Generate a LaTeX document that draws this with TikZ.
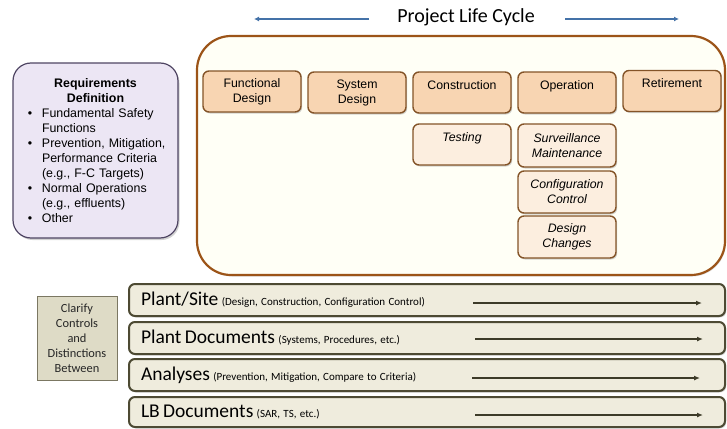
\documentclass[tikz,border=0pt]{standalone}
\usepackage{fontspec}
\setmainfont{Liberation Sans}
\newfontfamily\calibri{Carlito}
\usetikzlibrary{arrows.meta,shadows}
\definecolor{lcborder}{HTML}{9C5418}
\definecolor{lcfill}{HTML}{FFFFF6}
\definecolor{phfill}{HTML}{F8D5B2}
\definecolor{phborder}{HTML}{845428}
\definecolor{subfill}{HTML}{FCEEDF}
\definecolor{reqfill}{HTML}{ECE6F4}
\definecolor{reqborder}{HTML}{4F4563}
\definecolor{barfill}{HTML}{EFECDD}
\definecolor{barborder}{HTML}{4D4A33}
\definecolor{bararrow}{HTML}{3D3B28}
\definecolor{clfill}{HTML}{DEDBC6}
\definecolor{clborder}{HTML}{7B7762}
\definecolor{titlearrow}{HTML}{4472A8}
\newcommand\reqitem[1]{\par\noindent\makebox[15pt][l]{\hspace{1pt}\textbullet}\mbox{#1}}
\newcommand\reqcont[1]{\par\noindent\hspace{15pt}\mbox{#1}}
\tikzset{
  phase/.style={draw=phborder, line width=1.4pt, fill=phfill, rounded corners=6pt,
    minimum width=98pt, minimum height=41pt, inner sep=0pt, align=center,
    font=\fontsize{12.3}{15}\selectfont,
    drop shadow={shadow xshift=1.2pt, shadow yshift=-1.5pt, opacity=0.35}},
  subphase/.style={phase, fill=subfill, font=\fontsize{12.3}{15}\selectfont\itshape},
  bar/.style={draw=barborder, line width=2pt, fill=barfill, rounded corners=6pt,
    minimum width=596pt, inner sep=0pt, text width=572pt, align=left,
    drop shadow={shadow xshift=1.2pt, shadow yshift=-1.5pt, opacity=0.3}},
  bararr/.style={draw=bararrow, line width=2pt, -{Latex[length=6pt,width=5pt]}},
  titlearr/.style={draw=titlearrow, line width=2pt, -{Latex[length=5pt,width=5pt]}}
}
\begin{document}
\begin{tikzpicture}[x=1pt,y=-1pt]
\useasboundingbox (0,0) rectangle (727,428);
% title
\node[font=\calibri\fontsize{20}{24}\selectfont, inner sep=0pt] (title) at (466,17) {Project Life Cycle};
\coordinate (la1) at (369,19); \coordinate (la2) at (254,19);
\coordinate (ra1) at (565,19); \coordinate (ra2) at (679,19);
\draw[titlearr] (la1) -- (la2);
\draw[titlearr] (ra1) -- (ra2);
% life cycle box
\node[draw=lcborder, line width=2.2pt, fill=lcfill, rounded corners=34pt,
  minimum width=528pt, minimum height=239pt, inner sep=0pt,
  drop shadow={shadow xshift=1pt, shadow yshift=-1.5pt, opacity=0.25}] (lc) at (461,155.5) {};
% requirements box
\node[draw=reqborder, line width=1.2pt, fill=reqfill, rounded corners=18pt,
  minimum width=165pt, minimum height=175pt, inner sep=0pt, text width=137pt,
  drop shadow={shadow xshift=1.5pt, shadow yshift=-2pt, opacity=0.35},
  font=\fontsize{12.4}{15}\selectfont] (req) at (95.5,150.5) {%
  {\centering\bfseries Requirements\\Definition\par}%
  \raggedright
  \reqitem{Fundamental Safety}\reqcont{Functions}%
  \reqitem{Prevention, Mitigation,}\reqcont{Performance Criteria}\reqcont{(e.g., F-C Targets)}%
  \reqitem{Normal Operations}\reqcont{(e.g., effluents)}%
  \reqitem{Other}};
% phases
\node[phase] (fd) at (252,91.5) {Functional\\Design};
\node[phase] (sd) at (357,92.5) {System\\Design};
\node[phase] (con) at (462,92.5) {Construction\\\phantom{X}};
\node[phase] (op) at (567,92.5) {Operation\\\phantom{X}};
\node[phase] (ret) at (672,91) {Retirement\\\phantom{X}};
\node[subphase] (test) at (462,144.5) {Testing\\\phantom{X}};
\node[subphase, minimum height=43pt] (surv) at (567,145.5) {Surveillance\\Maintenance};
\node[subphase, minimum height=42pt] (conf) at (567,192) {Configuration\\Control};
\node[subphase, minimum height=42pt] (dc) at (567,237) {Design\\Changes};
% clarify box
\node[draw=clborder, line width=0.8pt, fill=clfill, minimum width=80pt, minimum height=84pt,
  inner sep=0pt, align=center, text=black!85, font=\calibri\fontsize{12.4}{15}\selectfont] (cl) at (77,338)
  {Clarify\\Controls\\and\\Distinctions\\Between};
% bars
\node[bar, minimum height=32pt] (b1) at (427,300) {{\calibri\fontsize{19.5}{22}\selectfont Plant/Site} {\calibri\fontsize{11}{13}\selectfont (Design, Construction, Configuration Control)}};
\node[bar, minimum height=32pt] (b2) at (427,338) {{\calibri\fontsize{19.5}{22}\selectfont Plant Documents} {\calibri\fontsize{11}{13}\selectfont (Systems, Procedures, etc.)}};
\node[bar, minimum height=32pt] (b3) at (427,375) {{\calibri\fontsize{19.5}{22}\selectfont Analyses} {\calibri\fontsize{11}{13}\selectfont (Prevention, Mitigation, Compare to Criteria)}};
\node[bar, minimum height=30pt] (b4) at (427,412) {{\calibri\fontsize{19.5}{22}\selectfont LB Documents} {\calibri\fontsize{11}{13}\selectfont (SAR, TS, etc.)}};
\coordinate (a1s) at (473,303); \coordinate (a1e) at (702,303);
\coordinate (a2s) at (475,339); \coordinate (a2e) at (703,339);
\coordinate (a3s) at (472,378); \coordinate (a3e) at (700,378);
\coordinate (a4s) at (475,415); \coordinate (a4e) at (703,415);
\draw[bararr] (a1s) -- (a1e);
\draw[bararr] (a2s) -- (a2e);
\draw[bararr] (a3s) -- (a3e);
\draw[bararr] (a4s) -- (a4e);
\end{tikzpicture}
\end{document}
